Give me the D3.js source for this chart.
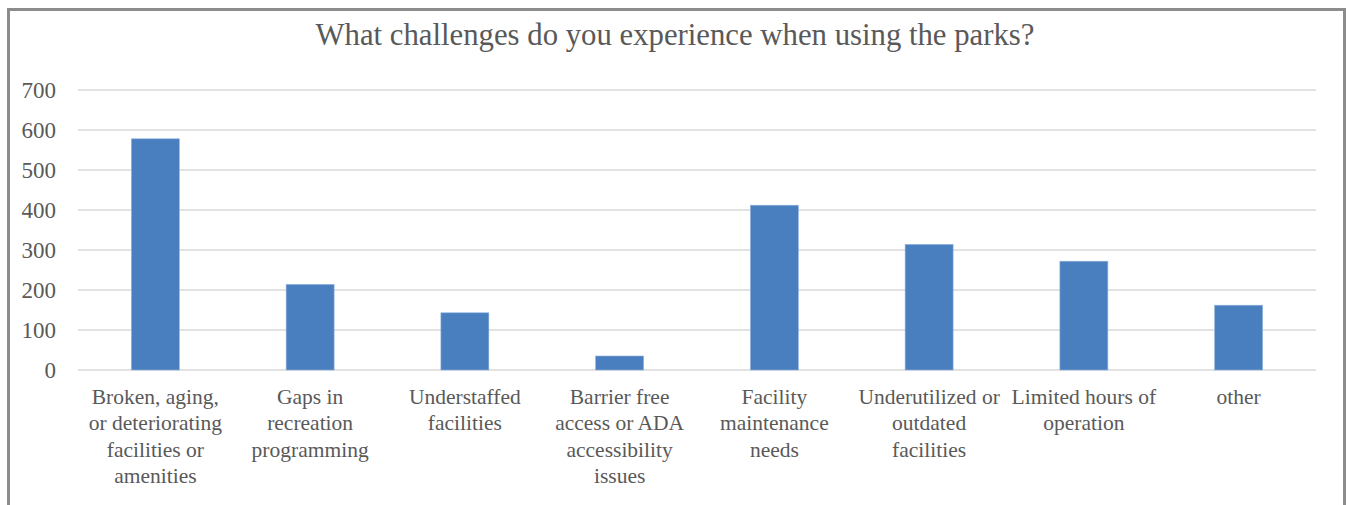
<!DOCTYPE html>
<html>
<head>
<meta charset="utf-8">
<script src="https://cdn.jsdelivr.net/npm/d3@7"></script>
<style>
  html, body { margin: 0; padding: 0; background: #fff; }
  svg { display: block; }
  text { font-family: "Liberation Serif", "DejaVu Serif", serif; fill: #595959; }
</style>
</head>
<body>
<svg id="chart" width="1348" height="505"></svg>
<script>
// Survey responses: challenges experienced when using the parks
const title = "What challenges do you experience when using the parks?";
const categories = [
  ["Broken, aging,", "or deteriorating", "facilities or", "amenities"],
  ["Gaps in", "recreation", "programming"],
  ["Understaffed", "facilities"],
  ["Barrier free", "access or ADA", "accessibility", "issues"],
  ["Facility", "maintenance", "needs"],
  ["Underutilized or", "outdated", "facilities"],
  ["Limited hours of", "operation"],
  ["other"]
];
const values = [578, 214, 143, 35, 412, 314, 272, 162];
const yTicks = [0, 100, 200, 300, 400, 500, 600, 700];

const svg = d3.select("#chart");

// outer frame
svg.append("rect")
  .attr("x", 8.5).attr("y", 9.5)
  .attr("width", 1336).attr("height", 520)
  .attr("fill", "#fff")
  .attr("stroke", "#8c8c8c").attr("stroke-width", 3);

const keys = categories.map((c, i) => i);
const x = d3.scaleBand().domain(keys).range([78, 1316]).padding(0);
const y = d3.scaleLinear().domain([0, 700]).range([370, 90]);

// gridlines
svg.append("g").selectAll("line").data(yTicks).join("line")
  .attr("x1", 78).attr("x2", 1316)
  .attr("y1", d => y(d)).attr("y2", d => y(d))
  .attr("stroke", "#d9d9d9").attr("stroke-width", 1.5);

// y axis labels
const yAxis = d3.axisLeft(y).tickValues(yTicks).tickSize(0).tickPadding(0);
const gy = svg.append("g").attr("transform", "translate(56,0)").call(yAxis);
gy.select(".domain").remove();
gy.selectAll("text")
  .attr("font-family", "Liberation Serif, serif")
  .attr("font-size", 23)
  .attr("fill", "#595959")
  .attr("dy", "0.33em");

// bars
const barW = x.bandwidth() * 0.31;
svg.append("g").selectAll("rect").data(values).join("rect")
  .attr("x", (d, i) => x(i) + x.bandwidth() / 2 - barW / 2)
  .attr("y", d => y(d))
  .attr("width", barW)
  .attr("height", d => y(0) - y(d))
  .attr("fill", "#4a7fbf")
  .attr("stroke", "#8fb2dc").attr("stroke-width", 0.6);

// category labels
const lab = svg.append("g").selectAll("text").data(categories).join("text")
  .attr("x", (d, i) => x(i) + x.bandwidth() / 2)
  .attr("y", 404)
  .attr("text-anchor", "middle")
  .attr("font-size", 21.5);
lab.selectAll("tspan").data(d => d).join("tspan")
  .attr("x", function () { return this.parentNode.getAttribute("x"); })
  .attr("dy", (d, i) => i === 0 ? 0 : 26.3)
  .text(d => d);

// title
const t = svg.append("text")
  .attr("x", 675).attr("y", 45)
  .attr("text-anchor", "middle")
  .attr("font-size", 26)
  .text(title);
const len = t.node().getComputedTextLength();
t.attr("font-size", 26 * 719 / len);
</script>
</body>
</html>
